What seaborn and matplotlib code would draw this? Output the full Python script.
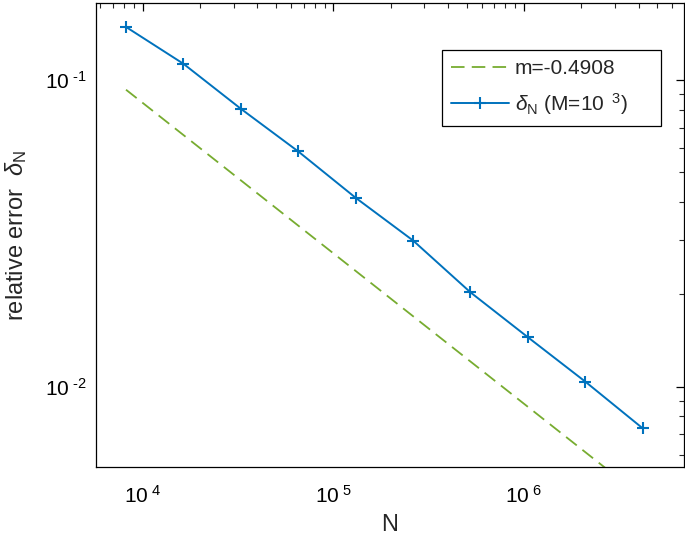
import numpy as np
import pandas as pd
import matplotlib
matplotlib.use("Agg")
import matplotlib.pyplot as plt
import matplotlib.ticker as mticker
import seaborn as sns

# ---- data ----
N_values = [8192, 16384, 32768, 65536, 131072, 262144, 524288, 1048576, 2097152, 4194304]
delta_values = [0.149, 0.113, 0.0806, 0.0585, 0.0413, 0.02996, 0.0203, 0.01449, 0.01038, 0.00731]
fit_N = [8192, 4194304]
fit_delta = [0.0930, 0.00435]
fit_label = "m=-0.4908"
data_label = r"$\mathit{\delta}_{N}$ (M=10$^{\ \ 3}$)     "
x_label = "N"
y_label = r"relative error  $\mathit{\delta}_{N}$"

sns.set_style("white")
plt.rcParams["font.family"] = ["Liberation Sans", "DejaVu Sans"]
plt.rcParams["mathtext.fontset"] = "custom"
plt.rcParams["mathtext.rm"] = "Liberation Sans"
plt.rcParams["mathtext.it"] = "Liberation Sans:italic"
plt.rcParams["mathtext.default"] = "rm"

blue = "#0072BD"
green = "#77AC30"

fig = plt.figure(figsize=(6.85, 5.38), dpi=100)
ax = fig.add_axes([0.1401, 0.1325, 0.8584, 0.8614])

df_fit = pd.DataFrame({"N": fit_N, "delta": fit_delta})
df = pd.DataFrame({"N": N_values, "delta": delta_values})

sns.lineplot(data=df_fit, x="N", y="delta", ax=ax, color=green, linewidth=1.3,
             dashes=False, linestyle=(0, (7.5, 4)), label=fit_label)
sns.lineplot(data=df, x="N", y="delta", ax=ax, color=blue, linewidth=1.4,
             marker="+", markersize=8, markeredgewidth=1.5, markeredgecolor=blue,
             label=data_label)

ax.set_xscale("log")
ax.set_yscale("log")
ax.set_xlim(5700, 6.9e6)
ax.set_ylim(0.00548, 0.178)

def fmt(v, pos):
    e = int(round(np.log10(v)))
    if e < 0:
        return r"$10^{\ \text{-}%d}$" % (-e)
    return r"$10^{\ %d}$" % e

ax.xaxis.set_major_locator(mticker.LogLocator(base=10, numticks=20))
ax.yaxis.set_major_locator(mticker.LogLocator(base=10, numticks=20))
ax.xaxis.set_major_formatter(mticker.FuncFormatter(fmt))
ax.yaxis.set_major_formatter(mticker.FuncFormatter(fmt))
ax.xaxis.set_minor_locator(mticker.LogLocator(base=10, subs=np.arange(2, 10), numticks=20))
ax.yaxis.set_minor_locator(mticker.LogLocator(base=10, subs=np.arange(2, 10), numticks=20))
ax.xaxis.set_minor_formatter(mticker.NullFormatter())
ax.yaxis.set_minor_formatter(mticker.NullFormatter())

ax.tick_params(which="major", direction="in", length=6, width=0.9, top=True, right=True,
               labelsize=15, colors="black")
ax.tick_params(which="minor", direction="in", length=3.5, width=0.8, top=True, right=True)
ax.tick_params(axis="x", which="major", pad=13)
ax.tick_params(axis="y", which="major", pad=7)
for s in ax.spines.values():
    s.set_visible(True)
    s.set_color("black")
    s.set_linewidth(0.9)

ax.set_xlabel(x_label, fontsize=17, labelpad=5)
ax.set_ylabel(y_label, fontsize=17, labelpad=11)

leg = ax.legend(loc="upper left", bbox_to_anchor=(0.588, 0.899), borderaxespad=0,
                fancybox=False, edgecolor="black", fontsize=15, handlelength=2.8,
                handletextpad=0.25, borderpad=0.45, labelspacing=0.6, framealpha=1)
leg.get_frame().set_linewidth(0.9)

fig.savefig("out.png", dpi=100, facecolor="white")
